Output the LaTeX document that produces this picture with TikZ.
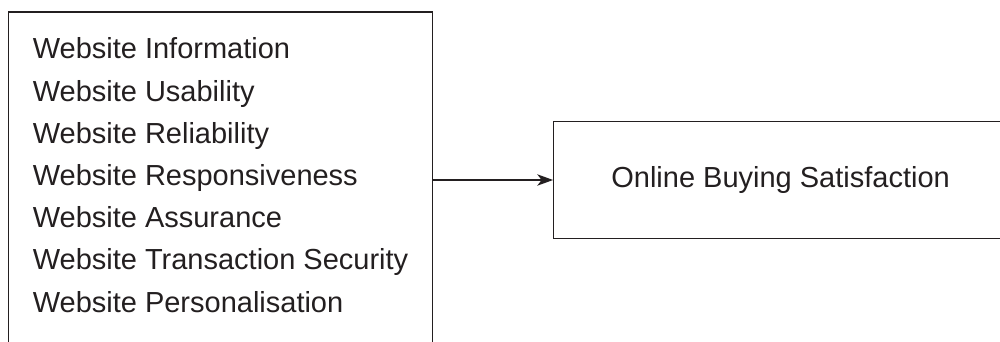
\documentclass[tikz,border=0pt]{standalone}
\usepackage{fontspec}
\setmainfont{Liberation Sans}
\usetikzlibrary{positioning, arrows.meta}
\definecolor{linecol}{RGB}{35,31,32}

\begin{document}
\begin{tikzpicture}[
    factors/.style={rectangle, draw=linecol, line width=0.6pt, align=left, inner xsep=0.455cm, minimum width=8.48cm, minimum height=6.72cm, text depth=0.2cm, font=\fontsize{16.5}{24}\selectfont, text=linecol},
    outcome/.style={rectangle, draw=linecol, line width=0.6pt, minimum width=9.08cm, minimum height=2.34cm, font=\fontsize{16.5}{20}\selectfont, text=linecol}
]

% picture frame (both boxes run past the edge)
\clip (0,0) rectangle (20,-6.84);

% left box with the website factors
\node[factors, anchor=west] (factors) at (0.16,-3.6) {Website Information\\
    Website Usability\\
    Website Reliability\\
    Website Responsiveness\\
    Website Assurance\\
    Website Transaction Security\\
    Website Personalisation};

% right box
\node[outcome, right=2.4cm of factors] (satisfaction) {Online Buying Satisfaction};

% arrow
\draw[-{Stealth[length=9pt, width=6.5pt, inset=2.5pt]}, linecol, line width=0.6pt] (factors.east) -- (satisfaction.west);

\end{tikzpicture}
\end{document}
